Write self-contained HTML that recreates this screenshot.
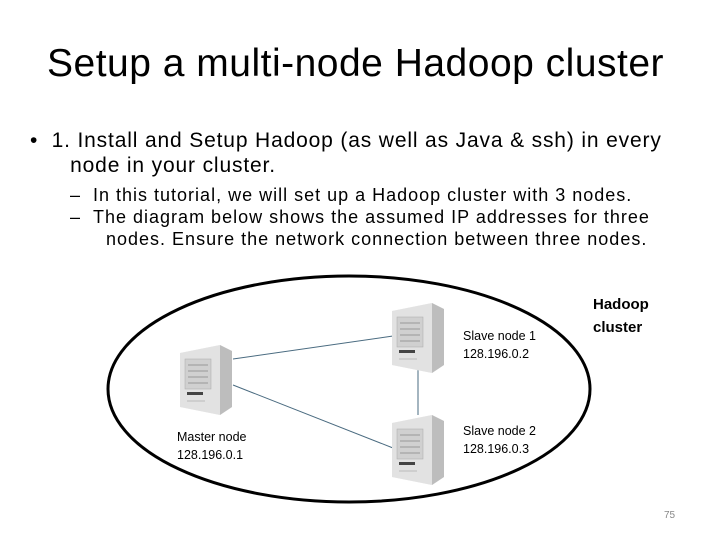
<!DOCTYPE html>
<html><head><style>
body{margin:0;width:720px;height:540px;background:#fff;position:relative;overflow:hidden;font-family:"Liberation Sans",sans-serif;color:#000}
.t{position:absolute;white-space:nowrap}
</style></head><body>
<div class="t" style="left:47px;top:42px;font-size:39px;letter-spacing:0.5px">Setup a multi-node Hadoop cluster</div>
<div class="t" style="left:30px;top:128px;font-size:21px;line-height:25px;letter-spacing:0.85px">•&nbsp; 1. Install and Setup Hadoop (as well as Java &amp; ssh) in every<br>&nbsp;&nbsp;&nbsp;&nbsp;&nbsp; node in your cluster.</div>
<div class="t" style="left:70px;top:184px;font-size:18px;line-height:22px;letter-spacing:1.0px">– &nbsp;In this tutorial, we will set up a Hadoop cluster with 3 nodes.<br>– &nbsp;The diagram below shows the assumed IP addresses for three<br>&nbsp;&nbsp;&nbsp;&nbsp;&nbsp; nodes. Ensure the network connection between three nodes.</div>
<svg width="720" height="540" style="position:absolute;left:0;top:0">
<defs>
<g id="srv">
<polygon points="0,8 40,0 52,6 52,62 40,70 0,62" fill="#f2f2f2"/>
<polygon points="40,0 52,6 52,62 40,70" fill="#bdbdbd"/>
<polygon points="0,8 40,0 40,70 0,62" fill="#e2e2e2"/>
<rect x="5" y="14" width="26" height="30" fill="#d0d0d0" stroke="#aaa" stroke-width="0.5"/>
<line x1="8" y1="20" x2="28" y2="20" stroke="#999"/><line x1="8" y1="26" x2="28" y2="26" stroke="#999"/><line x1="8" y1="32" x2="28" y2="32" stroke="#999"/><line x1="8" y1="38" x2="28" y2="38" stroke="#999"/>
<rect x="7" y="47" width="16" height="3" fill="#444"/>
<line x1="7" y1="56" x2="25" y2="56" stroke="#bbb"/>
</g>
</defs>
<ellipse cx="349" cy="389" rx="241" ry="113" fill="none" stroke="#000" stroke-width="3"/>
<line x1="233" y1="359" x2="393" y2="336" stroke="#4a6b80" stroke-width="1"/>
<line x1="233" y1="385" x2="393" y2="448" stroke="#4a6b80" stroke-width="1"/>
<line x1="418" y1="370" x2="418" y2="415" stroke="#4a6b80" stroke-width="1"/>
<use href="#srv" x="180" y="345"/>
<use href="#srv" x="392" y="303"/>
<use href="#srv" x="392" y="415"/>
<text x="463" y="340" font-size="12.5">Slave node 1</text>
<text x="463" y="358" font-size="12.5">128.196.0.2</text>
<text x="463" y="435" font-size="12.5">Slave node 2</text>
<text x="463" y="453" font-size="12.5">128.196.0.3</text>
<text x="177" y="441" font-size="12.5">Master node</text>
<text x="177" y="459" font-size="12.5">128.196.0.1</text>
<text x="593" y="309" font-size="15" font-weight="bold">Hadoop</text>
<text x="593" y="332" font-size="15" font-weight="bold">cluster</text>
<text x="664" y="518" font-size="10" fill="#888">75</text>
</svg>
</body></html>
